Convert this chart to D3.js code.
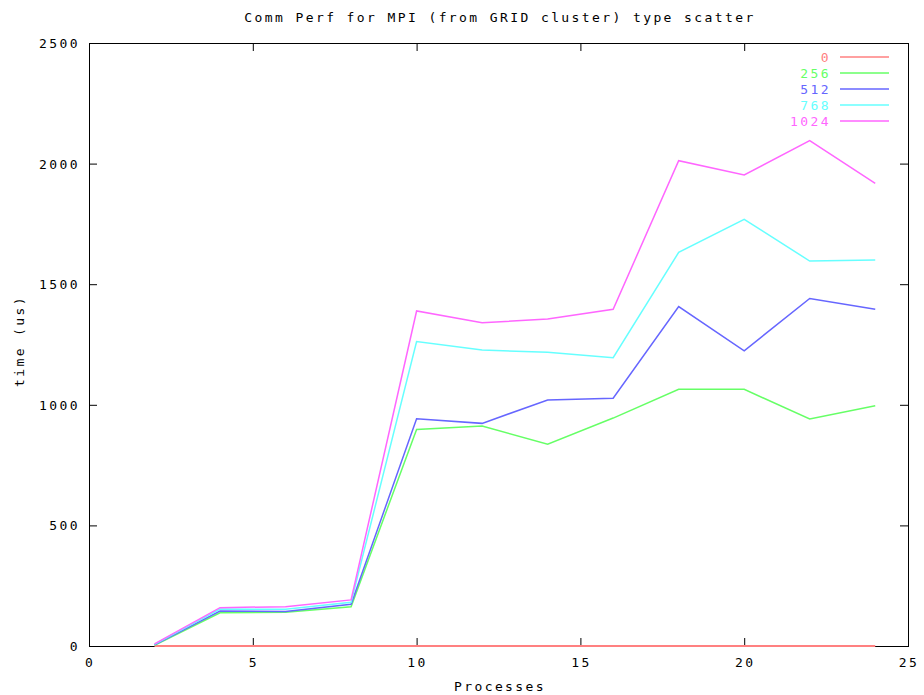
<!DOCTYPE html>
<html><head><meta charset="utf-8">
<script src="https://cdn.jsdelivr.net/npm/d3@7"></script>
<style>
body{margin:0;background:#fff;}
text{font-family:"DejaVu Sans Mono",monospace;font-size:13px;letter-spacing:2.4px;}
</style></head>
<body><svg id="c" width="924" height="695"></svg>
<script>
const processes = [2,4,6,8,10,12,14,16,18,20,22,24];
const seriesNames = ["0","256","512","768","1024"];
const s0    = [0,0,0,0,0,0,0,0,0,0,0,0];
const s256  = [3,138,140,163,898,912,837,945,1064,1064,941,996];
const s512  = [5,145,143,173,942,923,1020,1027,1407,1224,1441,1396];
const s768  = [7,153,152,181,1262,1227,1218,1195,1632,1769,1596,1600];
const s1024 = [9,159,163,191,1389,1340,1356,1396,2012,1953,2095,1918];
const seriesValues = [s0,s256,s512,s768,s1024];
const colors = ["#ff8080","#66ff66","#6666ff","#66ffff","#ff66ff"];
const xTicks = [0,5,10,15,20,25];
const yTicks = [0,500,1000,1500,2000,2500];

const svg = d3.select("#c");
const L=89,R=908,T=43,B=646;
const x = d3.scaleLinear().domain([0,25]).range([L,R]);
const y = d3.scaleLinear().domain([0,2500]).range([B,T]);

// title
svg.append("text").attr("x",500).attr("y",22).attr("text-anchor","middle").text("Comm Perf for MPI (from GRID cluster) type scatter");
// axis labels
svg.append("text").attr("x",500).attr("y",691).attr("text-anchor","middle").text("Processes");
svg.append("text").attr("transform","translate(24,341) rotate(-90)").attr("text-anchor","middle").text("time (us)");

// frame
svg.append("rect").attr("x",L+0.5).attr("y",T+0.5).attr("width",R-L).attr("height",B-T)
  .attr("fill","none").attr("stroke","#000").attr("stroke-width",1);

// ticks (mirrored on all sides)
const tl=8;
const g = svg.append("g").attr("stroke","#000").attr("stroke-width",1);
xTicks.forEach(v=>{
  g.append("line").attr("x1",x(v)+0.5).attr("x2",x(v)+0.5).attr("y1",B).attr("y2",B-tl);
  g.append("line").attr("x1",x(v)+0.5).attr("x2",x(v)+0.5).attr("y1",T).attr("y2",T+tl);
  svg.append("text").attr("x",x(v)+1).attr("y",B+21).attr("text-anchor","middle").text(v);
});
yTicks.forEach(v=>{
  g.append("line").attr("x1",L).attr("x2",L+tl).attr("y1",y(v)+0.5).attr("y2",y(v)+0.5);
  g.append("line").attr("x1",R).attr("x2",R-tl).attr("y1",y(v)+0.5).attr("y2",y(v)+0.5);
  svg.append("text").attr("x",80).attr("y",y(v)+5).attr("text-anchor","end").text(v);
});

// lines
const line = d3.line().x((d,i)=>x(processes[i])).y(d=>y(d));
seriesValues.forEach((vals,k)=>{
  svg.append("path").datum(vals).attr("d",line).attr("fill","none")
    .attr("stroke",colors[k]).attr("stroke-width",k===0?2:1.5);
});

// legend
seriesNames.forEach((n,k)=>{
  const ly = 57 + k*16;
  svg.append("text").attr("x",831).attr("y",ly+5).attr("text-anchor","end").attr("fill",colors[k]).text(n);
  svg.append("line").attr("x1",840).attr("x2",889).attr("y1",ly).attr("y2",ly)
    .attr("stroke",colors[k]).attr("stroke-width",1.5);
});
</script></body></html>
